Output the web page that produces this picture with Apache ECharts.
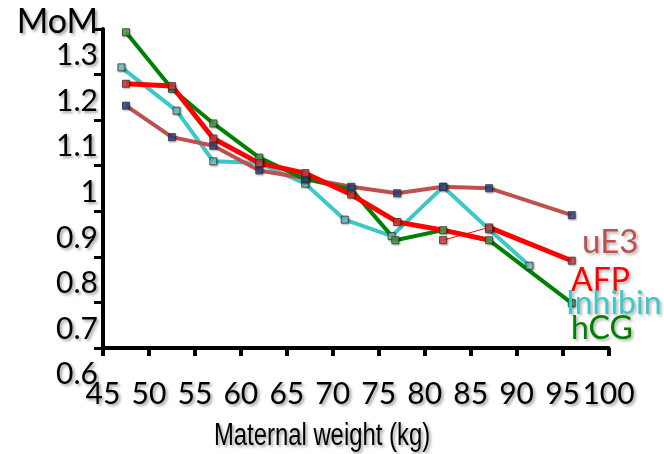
<!DOCTYPE html>
<html>
<head>
<meta charset="utf-8">
<script src="https://cdn.jsdelivr.net/npm/echarts@6/dist/echarts.min.js"></script>
<style>
html,body{margin:0;padding:0;background:#fff;}
#chart{width:664px;height:454px;}
</style>
</head>
<body>
<div id="chart"></div>
<script>
// ---- data ----
const xTickLabels = [45, 50, 55, 60, 65, 70, 75, 80, 85, 90, 95, 100];
const yTickLabels = [0.6, 0.7, 0.8, 0.9, 1, 1.1, 1.2, 1.3];
const xAxisTitle = 'Maternal weight (kg)';
const yAxisTitle = 'MoM';

const ue3X = [47.5, 52.5, 57, 62, 67, 72, 77, 82, 87, 96];
const ue3Y = [1.19, 1.121, 1.102, 1.048, 1.031, 1.012, 0.998, 1.012, 1.009, 0.95];

const afpX = [47.5, 52.5, 57, 62, 67, 72, 77, 82, 87, 96];
const afpY = [1.238, 1.233, 1.118, 1.064, 1.042, 0.995, 0.935, 0.895, 0.923, 0.85];
// thick red stroke that runs over the hCG segment between 77 and 87 kg
const afpStrayX = [77, 82, 87];
const afpStrayY = [0.935, 0.917, 0.895];

const inhX = [47, 53, 57, 62, 67, 71.3, 76.4, 82, 87, 91.4];
const inhY = [1.274, 1.179, 1.068, 1.064, 1.019, 0.94, 0.904, 1.012, 0.919, 0.839];

const hcgX = [47.5, 52.5, 57, 62, 67, 72, 76.8, 82, 87, 96];
const hcgY = [1.351, 1.227, 1.151, 1.076, 1.029, 1.007, 0.895, 0.917, 0.895, 0.757];

const seriesNames = ['uE3', 'AFP', 'Inhibin', 'hCG'];

// ---- build ----
const zip = (xs, ys) => xs.map((x, i) => [x, ys[i]]);
const afpPts = zip(afpX, afpY);
const afpMain = afpPts.slice(0, 7).concat(zip(afpStrayX, afpStrayY).slice(1));
const afpThin = afpPts.slice(7, 9);
const afpTail = afpPts.slice(8, 10);

const shadow = {
  textShadowColor: 'rgba(0,0,0,0.38)', textShadowBlur: 3,
  textShadowOffsetX: 2, textShadowOffsetY: 2
};
const numFont = Object.assign({ fontFamily: 'Lato, "Open Sans", sans-serif', fontSize: 30, color: '#000' }, shadow);

function line(name, data, color, width, z) {
  return {
    type: 'line', name, data, xAxisIndex: 1, yAxisIndex: 1,
    showSymbol: false, symbol: 'none', clip: false, z,
    lineStyle: { color, width }, silent: true, animation: false
  };
}
function marks(name, data, fill) {
  return {
    type: 'scatter', name, data, xAxisIndex: 1, yAxisIndex: 1,
    symbol: 'rect', symbolSize: 7, clip: false, z: 10,
    itemStyle: {
      color: fill, borderColor: '#333', borderWidth: 1,
      shadowColor: 'rgba(0,0,0,0.35)', shadowBlur: 2, shadowOffsetX: 1, shadowOffsetY: 1
    },
    silent: true, animation: false
  };
}
function legendText(text, color, x, y, size) {
  return {
    type: 'text', x, y, z: 100,
    style: {
      text, fill: color, font: size + 'px Lato, sans-serif', textVerticalAlign: 'middle',
      textShadowColor: 'rgba(0,0,0,0.3)', textShadowBlur: 3, textShadowOffsetX: 2, textShadowOffsetY: 2
    }
  };
}

const C = { ue3: '#c0504d', afp: '#ff0000', inh: '#3cc8c8', hcg: '#008000' };

const option = {
  backgroundColor: '#fff',
  animation: false,
  grid: [
    { left: 103, right: 55.5, top: 29, bottom: 106 },
    { left: 103, right: 55.5, top: 55.5, bottom: 79.3 }
  ],
  xAxis: [
    {
      gridIndex: 0, type: 'value', min: xTickLabels[0], max: xTickLabels[xTickLabels.length - 1], interval: 5,
      axisLine: { show: true, lineStyle: { color: '#000', width: 4 } },
      axisTick: { show: true, length: 8, lineStyle: { color: '#000', width: 4 } },
      splitLine: { show: false },
      axisLabel: Object.assign({ margin: 31 }, numFont)
    },
    { gridIndex: 1, type: 'value', min: xTickLabels[0], max: xTickLabels[xTickLabels.length - 1], show: false }
  ],
  yAxis: [
    {
      gridIndex: 0, type: 'value', min: 0, max: 7, interval: 1,
      axisLine: { show: true, lineStyle: { color: '#000', width: 4 } },
      axisTick: { show: true, length: 9, lineStyle: { color: '#000', width: 3 } },
      axisLabel: { show: false }, splitLine: { show: false },
      name: yAxisTitle, nameLocation: 'end', nameGap: 7,
      nameTextStyle: Object.assign({}, numFont, { fontSize: 34, align: 'right', verticalAlign: 'middle', padding: [0, 5, 0, 0] })
    },
    {
      gridIndex: 1, type: 'value', min: yTickLabels[0], max: yTickLabels[yTickLabels.length - 1], interval: 0.1,
      axisLine: { show: false }, axisTick: { show: false }, splitLine: { show: false },
      axisLabel: Object.assign({ margin: 5 }, numFont)
    }
  ],
  series: [
    line(seriesNames[2], zip(inhX, inhY), C.inh, 4, 2),
    line(seriesNames[0], zip(ue3X, ue3Y), C.ue3, 4, 3),
    line(seriesNames[3], zip(hcgX, hcgY), C.hcg, 4, 4),
    line(seriesNames[1], afpMain, C.afp, 5, 5),
    line(seriesNames[1], afpThin, C.afp, 1, 5),
    line(seriesNames[1], afpTail, C.afp, 5, 5),
    marks(seriesNames[2], zip(inhX, inhY), '#7fc8cc'),
    marks(seriesNames[3], zip(hcgX, hcgY), '#4cae4c'),
    marks(seriesNames[0], zip(ue3X, ue3Y), '#2b4590'),
    marks(seriesNames[1], afpPts, '#e33a3a')
  ],
  graphic: [
    {
      type: 'text', x: 322, y: 436, scaleX: 0.77, z: 100,
      style: {
        text: xAxisTitle, fill: '#000', font: '31px "Liberation Sans", Arial, sans-serif',
        textAlign: 'center', textVerticalAlign: 'middle',
        textShadowColor: 'rgba(0,0,0,0.38)', textShadowBlur: 3, textShadowOffsetX: 2, textShadowOffsetY: 2
      }
    },
    legendText(seriesNames[0], C.ue3, 582, 242, 33),
    legendText(seriesNames[1], C.afp, 571, 281, 32),
    legendText(seriesNames[2], C.inh, 566, 304, 32),
    legendText(seriesNames[3], C.hcg, 571, 329, 32)
  ]
};

const chart = echarts.init(document.getElementById('chart'), null, { renderer: 'canvas' });
chart.setOption(option);
</script>
</body>
</html>
